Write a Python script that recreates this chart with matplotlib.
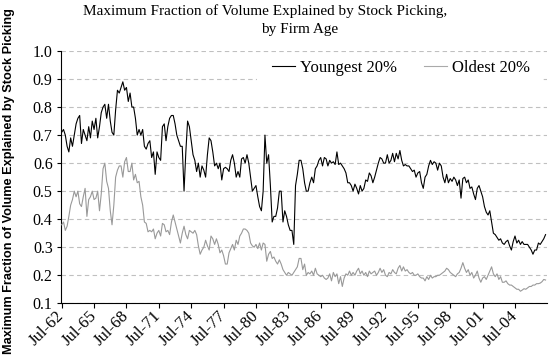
import numpy as np
import pandas as pd
import matplotlib
matplotlib.use("Agg")
import matplotlib.pyplot as plt
from matplotlib.patches import Rectangle

# ---- data (one value every two months, starting Jul-1962) ----
start_date = "1962-07-01"
youngest = [
    0.71, 0.72, 0.70, 0.66, 0.64, 0.69, 0.66, 0.70, 0.74, 0.76,
    0.77, 0.67, 0.72, 0.70, 0.68, 0.73, 0.69, 0.75, 0.72, 0.76,
    0.69, 0.73, 0.78, 0.80, 0.81, 0.76, 0.81, 0.75, 0.71, 0.70,
    0.79, 0.86, 0.85, 0.87, 0.89, 0.86, 0.87, 0.82, 0.85, 0.80,
    0.80, 0.76, 0.70, 0.72, 0.70,
    0.72, 0.66, 0.65, 0.67, 0.68, 0.62, 0.64, 0.56, 0.64, 0.62,
    0.61, 0.73, 0.74, 0.68, 0.73, 0.76, 0.77, 0.77, 0.74, 0.70,
    0.68, 0.66, 0.66, 0.50, 0.64, 0.75, 0.73, 0.68, 0.63, 0.61,
    0.57, 0.60, 0.55, 0.59, 0.575, 0.55, 0.63, 0.69, 0.68, 0.64,
    0.59, 0.60, 0.58, 0.60, 0.54,
    0.58, 0.585, 0.58, 0.57, 0.61, 0.63, 0.60, 0.55, 0.57, 0.55,
    0.615, 0.62, 0.60, 0.63, 0.60, 0.55, 0.50, 0.51, 0.52, 0.48,
    0.445, 0.43, 0.50, 0.70, 0.60, 0.63, 0.52, 0.39, 0.41, 0.41,
    0.44, 0.50, 0.50, 0.39, 0.43, 0.41, 0.38, 0.36, 0.36, 0.31,
    0.52, 0.56, 0.61, 0.61, 0.58,
    0.53, 0.50, 0.50, 0.53, 0.55, 0.53, 0.58, 0.59, 0.61, 0.62,
    0.59, 0.62, 0.615, 0.59, 0.61, 0.60, 0.605, 0.595, 0.64, 0.595,
    0.60, 0.59, 0.58, 0.565, 0.53, 0.53, 0.52, 0.50, 0.525, 0.51,
    0.49, 0.52, 0.50, 0.51, 0.54, 0.535, 0.565, 0.555, 0.53, 0.55,
    0.575, 0.60, 0.62, 0.615, 0.60,
    0.60, 0.63, 0.60, 0.61, 0.635, 0.605, 0.635, 0.615, 0.645, 0.61,
    0.59, 0.595, 0.59, 0.59, 0.58, 0.57, 0.575, 0.55, 0.565, 0.57,
    0.53, 0.51, 0.55, 0.56, 0.59, 0.61, 0.595, 0.605, 0.60, 0.575,
    0.60, 0.59, 0.55, 0.53, 0.56, 0.53, 0.545, 0.535, 0.55, 0.54,
    0.52, 0.54, 0.475, 0.545, 0.55,
    0.53, 0.54, 0.51, 0.515, 0.49, 0.47, 0.51, 0.52, 0.50, 0.48,
    0.445, 0.425, 0.415, 0.43, 0.39, 0.35, 0.345, 0.335, 0.325, 0.33,
    0.315, 0.31, 0.32, 0.325, 0.305, 0.29, 0.32, 0.34, 0.315, 0.325,
    0.31, 0.32, 0.31, 0.31, 0.31, 0.30, 0.29, 0.275, 0.29, 0.29,
    0.315, 0.31, 0.32, 0.33, 0.345,
]
oldest = [
    0.38, 0.39, 0.36, 0.375, 0.41, 0.45, 0.47, 0.50, 0.48, 0.50,
    0.455, 0.445, 0.48, 0.51, 0.41, 0.47, 0.48, 0.50, 0.47, 0.475,
    0.50, 0.43, 0.49, 0.58, 0.60, 0.535, 0.51, 0.43, 0.38, 0.45,
    0.55, 0.575, 0.59, 0.59, 0.55, 0.605, 0.62, 0.57, 0.57, 0.60,
    0.54, 0.56, 0.53, 0.535, 0.48,
    0.45, 0.39, 0.385, 0.355, 0.36, 0.355, 0.365, 0.33, 0.35, 0.36,
    0.34, 0.385, 0.38, 0.355, 0.36, 0.345, 0.39, 0.415, 0.39, 0.365,
    0.34, 0.315, 0.35, 0.375, 0.345, 0.33, 0.36, 0.355, 0.35, 0.36,
    0.345, 0.305, 0.275, 0.29, 0.30, 0.325, 0.305, 0.29, 0.34, 0.33,
    0.31, 0.33, 0.31, 0.28, 0.29,
    0.27, 0.24, 0.24, 0.28, 0.295, 0.31, 0.29, 0.325, 0.31, 0.34,
    0.35, 0.365, 0.365, 0.36, 0.35, 0.315, 0.305, 0.30, 0.31, 0.295,
    0.315, 0.29, 0.315, 0.31, 0.25, 0.275, 0.285, 0.26, 0.265, 0.25,
    0.24, 0.255, 0.24, 0.22, 0.21, 0.20, 0.21, 0.205, 0.20, 0.21,
    0.22, 0.23, 0.26, 0.26, 0.22,
    0.24, 0.20, 0.21, 0.205, 0.215, 0.20, 0.225, 0.205, 0.20, 0.195,
    0.20, 0.19, 0.185, 0.19, 0.205, 0.18, 0.21, 0.195, 0.205, 0.17,
    0.195, 0.16, 0.19, 0.205, 0.20, 0.215, 0.20, 0.21, 0.20, 0.215,
    0.225, 0.205, 0.215, 0.20, 0.21, 0.195, 0.215, 0.205, 0.21, 0.215,
    0.20, 0.21, 0.225, 0.21, 0.22,
    0.20, 0.195, 0.21, 0.205, 0.22, 0.21, 0.205, 0.225, 0.235, 0.215,
    0.23, 0.215, 0.22, 0.21, 0.205, 0.21, 0.20, 0.20, 0.205, 0.195,
    0.19, 0.19, 0.18, 0.195, 0.185, 0.20, 0.19, 0.195, 0.195, 0.20,
    0.20, 0.205, 0.21, 0.215, 0.225, 0.22, 0.21, 0.205, 0.20, 0.195,
    0.205, 0.21, 0.225, 0.245, 0.225,
    0.21, 0.22, 0.20, 0.21, 0.19, 0.20, 0.215, 0.19, 0.175, 0.19,
    0.195, 0.185, 0.20, 0.215, 0.23, 0.205, 0.195, 0.205, 0.185, 0.195,
    0.175, 0.175, 0.18, 0.17, 0.165, 0.165, 0.16, 0.155, 0.15, 0.15,
    0.143, 0.147, 0.152, 0.15, 0.155, 0.16, 0.16, 0.165, 0.165, 0.17,
    0.17, 0.172, 0.177, 0.185, 0.183,
]
tick_labels = ["Jul-62", "Jul-65", "Jul-68", "Jul-71", "Jul-74", "Jul-77",
               "Jul-80", "Jul-83", "Jul-86", "Jul-89", "Jul-92", "Jul-95",
               "Jul-98", "Jul-01", "Jul-04"]
y_ticks = [0.1, 0.2, 0.3, 0.4, 0.5, 0.6, 0.7, 0.8, 0.9, 1.0]
series_names = ["Youngest 20%", "Oldest 20%"]

dates = pd.date_range(start_date, periods=len(youngest), freq="2MS")
tick_dates = pd.date_range(start_date, periods=len(tick_labels), freq="36MS")

serif = "Liberation Serif"
sans = "Liberation Sans"

fig = plt.figure(figsize=(5.5, 3.63), dpi=100)
ax = fig.add_axes([0.111, 0.1645, 0.8836, 0.695])

ax.plot(dates, youngest, color="#000000", lw=0.8, label=series_names[0], zorder=3)
ax.plot(dates, oldest, color="#999999", lw=0.8, label=series_names[1], zorder=3)

ax.set_ylim(0.1, 1.0)
ax.set_xlim(pd.Timestamp("1962-06-10"), pd.Timestamp("2007-06-20"))
ax.set_yticks(y_ticks)
ax.set_yticklabels([f"{v:.1f}" for v in y_ticks], fontfamily=serif, fontsize=11.5)
ax.set_xticks(tick_dates)
ax.set_xticklabels(tick_labels, fontfamily=serif, fontsize=12, rotation=45,
                   ha="right", va="center", rotation_mode="anchor")
ax.tick_params(axis="x", direction="out", length=3.6, width=0.8, pad=4)
ax.tick_params(axis="y", direction="out", length=3.0, width=0.8, pad=3)

ax.yaxis.grid(True, color="#c0c0c0", linestyle=(0, (4, 3)), lw=0.8)
ax.set_axisbelow(True)
for s in ["top", "right"]:
    ax.spines[s].set_visible(False)
for s in ["left", "bottom"]:
    ax.spines[s].set_linewidth(0.8)
    ax.spines[s].set_color("black")

# white legend background covering the gridline
ax.add_patch(Rectangle((0.403, 0.869), 0.585, 0.111, transform=ax.transAxes,
                       facecolor="white", edgecolor="none", zorder=2))
leg = ax.legend(loc="center left", bbox_to_anchor=(0.434, 0.9326), ncol=2,
                frameon=False, borderpad=0, borderaxespad=0,
                handlelength=1.4, handletextpad=0.3, columnspacing=1.6,
                prop={"family": serif, "size": 12})
leg.set_zorder(4)
leg.get_lines()[1].set_color("#aaaaaa")

fig.text(265 / 550, 1 - 15 / 363, "Maximum Fraction of Volume Explained by Stock Picking,",
         ha="center", va="baseline", fontfamily=serif, fontsize=11)
fig.text(300 / 550, 1 - 33 / 363, "by Firm Age",
         ha="center", va="baseline", fontfamily=serif, fontsize=11)
fig.text(9 / 550, 0.5, "Maximum Fraction of Volume Explained by Stock Picking",
         rotation=90, ha="center", va="center", fontfamily=sans,
         fontweight="bold", fontsize=9.2)

fig.savefig("out.png", dpi=100)
